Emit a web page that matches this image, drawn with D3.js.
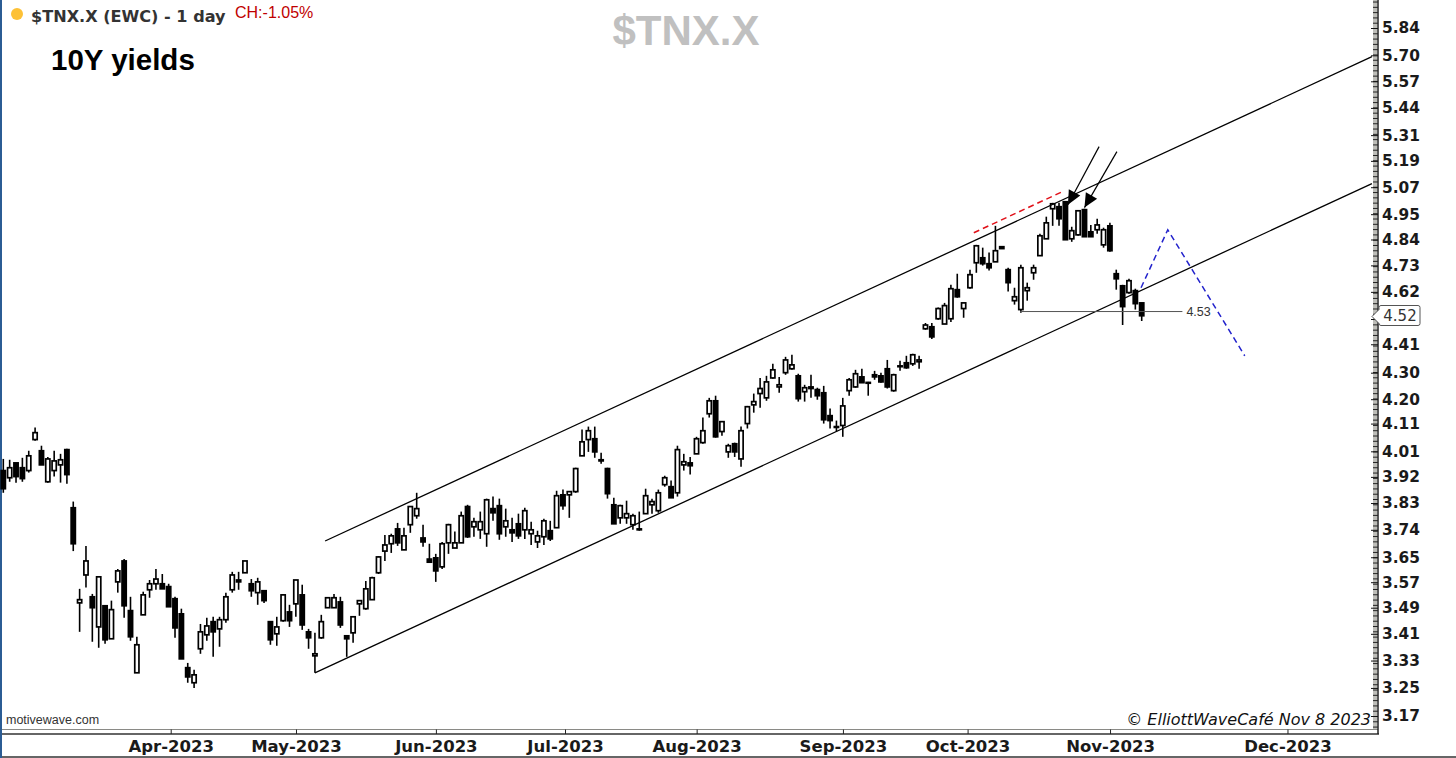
<!DOCTYPE html>
<html lang='en'>
  <head>
    <meta charset='utf-8'>
    <title>$TNX.X 10Y yields</title>
    <script src='https://cdn.jsdelivr.net/npm/d3@7'></script>
    <style>
      body { margin: 0; background: #fff; }
      svg { display: block; }
    </style>
  </head>
  <body>
    <script type='text/javascript'>

      // daily bars
      var opens = [
        3.942,3.917,3.969,3.952,3.942,4.052,4.012,3.903,3.942,3.962,
        4.016,3.814,3.505,3.593,3.524,3.431,3.496,3.395,3.571,3.638,
        3.481,3.294,3.468,3.546,3.565,3.565,3.556,3.518,3.471,3.309,
        3.265,3.365,3.407,3.447,3.425,3.453,3.546,3.577,3.600,3.565,
        3.537,3.543,3.447,3.410,3.450,3.477,3.502,3.530,3.416,3.344,
        3.398,3.490,3.490,3.508,3.404,3.413,3.502,3.487,3.515,3.600,
        3.670,3.694,3.743,3.674,3.757,3.787,3.713,3.644,3.648,3.619,
        3.697,3.680,3.697,3.818,3.750,3.740,3.727,3.811,3.821,3.750,
        3.740,3.760,3.740,3.727,3.700,3.717,3.737,3.747,3.858,3.858,
        3.869,3.994,4.052,4.055,3.980,3.949,3.824,3.780,3.780,3.757,
        3.743,3.794,3.824,3.804,3.893,3.886,3.865,3.962,3.969,4.001,
        4.041,4.146,4.194,4.081,4.008,4.037,3.983,4.110,4.179,4.221,
        4.205,4.280,4.246,4.300,4.315,4.288,4.228,4.240,4.236,4.224,
        4.139,4.099,4.103,4.232,4.246,4.284,4.260,4.292,4.288,4.315,
        4.232,4.326,4.338,4.334,4.342,4.471,4.479,4.511,4.490,4.511,
        4.629,4.552,4.637,4.741,4.762,4.737,4.745,4.809,4.712,4.584,
        4.548,4.625,4.699,4.771,4.843,4.974,4.983,5.005,4.843,4.860,
        4.970,4.873,4.882,4.817,4.899,4.695,4.645,4.617,4.625,4.575
      ];
      var highs = [
        3.983,3.980,3.969,3.987,4.012,4.096,4.030,3.990,4.012,4.001,
        4.019,3.835,3.549,3.687,3.533,3.587,3.496,3.512,3.612,3.644,
        3.524,3.401,3.540,3.577,3.612,3.596,3.565,3.524,3.487,3.323,
        3.303,3.440,3.459,3.462,3.462,3.537,3.603,3.603,3.638,3.580,
        3.584,3.543,3.447,3.462,3.533,3.499,3.577,3.562,3.425,3.413,
        3.468,3.521,3.533,3.524,3.404,3.462,3.512,3.574,3.587,3.654,
        3.723,3.727,3.763,3.747,3.818,3.865,3.757,3.694,3.661,3.700,
        3.760,3.734,3.801,3.824,3.780,3.801,3.845,3.852,3.845,3.811,
        3.780,3.794,3.814,3.767,3.737,3.777,3.770,3.872,3.876,3.869,
        3.952,4.088,4.099,4.099,4.005,3.952,3.848,3.824,3.838,3.794,
        3.801,3.879,3.845,3.876,3.924,3.907,4.030,4.001,3.990,4.062,
        4.132,4.205,4.213,4.117,4.037,4.041,4.099,4.175,4.221,4.280,
        4.288,4.334,4.284,4.361,4.369,4.296,4.254,4.292,4.243,4.250,
        4.165,4.121,4.205,4.280,4.311,4.315,4.265,4.307,4.300,4.349,
        4.296,4.346,4.365,4.373,4.365,4.494,4.494,4.556,4.575,4.649,
        4.695,4.575,4.712,4.817,4.805,4.784,4.899,4.809,4.720,4.637,
        4.733,4.658,4.733,4.865,4.939,5.000,5.000,5.005,4.895,4.965,
        4.974,4.903,4.930,4.891,4.912,4.712,4.649,4.674,4.633,4.575
      ];
      var lows = [
        3.865,3.903,3.900,3.903,3.935,4.048,3.962,3.900,3.921,3.900,
        3.896,3.670,3.416,3.553,3.386,3.368,3.380,3.395,3.537,3.459,
        3.389,3.294,3.468,3.521,3.546,3.549,3.493,3.398,3.335,3.265,
        3.250,3.350,3.389,3.341,3.371,3.444,3.537,3.546,3.600,3.524,
        3.499,3.505,3.377,3.374,3.447,3.431,3.462,3.422,3.365,3.294,
        3.395,3.490,3.490,3.428,3.341,3.383,3.465,3.484,3.515,3.596,
        3.638,3.664,3.687,3.674,3.730,3.777,3.684,3.634,3.571,3.612,
        3.661,3.680,3.697,3.713,3.717,3.710,3.684,3.770,3.707,3.717,
        3.700,3.710,3.710,3.690,3.680,3.690,3.703,3.747,3.807,3.780,
        3.865,3.994,4.008,3.987,3.966,3.845,3.760,3.760,3.760,3.740,
        3.737,3.794,3.794,3.797,3.886,3.848,3.852,3.942,3.928,4.001,
        4.037,4.132,4.059,4.066,3.987,3.990,3.955,4.092,4.150,4.168,
        4.194,4.277,4.224,4.292,4.311,4.191,4.191,4.205,4.198,4.110,
        4.092,4.081,4.062,4.213,4.243,4.262,4.213,4.273,4.262,4.240,
        4.228,4.307,4.315,4.326,4.315,4.467,4.431,4.507,4.490,4.498,
        4.596,4.515,4.633,4.699,4.729,4.708,4.745,4.801,4.621,4.568,
        4.535,4.584,4.670,4.771,4.843,4.899,4.899,4.839,4.830,4.856,
        4.852,4.852,4.865,4.805,4.788,4.629,4.486,4.612,4.548,4.502
      ];
      var closes = [
        3.879,3.952,3.921,3.914,3.994,4.077,3.962,3.983,3.976,3.980,
        3.928,3.694,3.515,3.638,3.490,3.587,3.392,3.484,3.606,3.496,
        3.401,3.377,3.530,3.565,3.580,3.549,3.493,3.428,3.335,3.282,
        3.288,3.416,3.434,3.416,3.453,3.524,3.593,3.571,3.638,3.543,
        3.571,3.512,3.392,3.431,3.530,3.450,3.577,3.437,3.398,3.350,
        3.447,3.521,3.521,3.437,3.395,3.462,3.512,3.549,3.584,3.651,
        3.690,3.720,3.697,3.720,3.818,3.811,3.700,3.634,3.606,3.694,
        3.757,3.697,3.787,3.717,3.767,3.767,3.841,3.797,3.727,3.770,
        3.730,3.720,3.804,3.740,3.720,3.770,3.710,3.855,3.821,3.869,
        3.949,4.044,4.084,4.008,3.976,3.862,3.760,3.821,3.794,3.787,
        3.740,3.855,3.835,3.865,3.917,3.848,4.016,3.973,3.959,4.055,
        4.084,4.194,4.062,4.117,4.030,4.008,4.084,4.172,4.191,4.240,
        4.265,4.311,4.254,4.349,4.330,4.202,4.243,4.246,4.213,4.124,
        4.121,4.096,4.175,4.273,4.296,4.262,4.263,4.284,4.265,4.246,
        4.292,4.323,4.319,4.369,4.349,4.486,4.439,4.552,4.564,4.633,
        4.600,4.575,4.691,4.813,4.737,4.720,4.792,4.801,4.658,4.600,
        4.720,4.637,4.720,4.856,4.912,4.996,4.930,4.839,4.878,4.965,
        4.852,4.852,4.903,4.882,4.792,4.674,4.560,4.666,4.572,4.523
      ];

      var priceTicks = [5.84,5.70,5.57,5.44,5.31,5.19,5.07,4.95,4.84,4.73,4.62,4.51,4.41,
                        4.30,4.20,4.11,4.01,3.92,3.83,3.74,3.65,3.57,3.49,3.41,3.33,3.25,3.17];
      var monthLabels = ['Apr-2023','May-2023','Jun-2023','Jul-2023','Aug-2023','Sep-2023','Oct-2023','Nov-2023','Dec-2023'];
      var monthBars = [26.4,46.1,68.1,88.4,109.1,132.1,151.7,174.1,202];

      // drawn studies, as [bar number, price] pairs
      var upperChannel = [[50.6,3.703],[215.2,5.693]];
      var lowerChannel = [[49,3.294],[215.2,5.086]];
      var supportLevel = [[159.9,4.54],[185.4,4.54]];
      var redDash = [[152.6,4.869],[166.3,5.047]];
      var blueDash = [[178.9,4.637],[183.1,4.882],[195.2,4.365]];
      var arrowOne = [[172.3,5.256],[167.4,4.992]];
      var arrowTwo = [[175.1,5.233],[170,4.979]];
      var lastPrice = 4.52;

      var w = 1456;
      var h = 758;
      var axisX = 1378;
      var axisY = 734;
      var sans = "'Liberation Sans', Arial, sans-serif";
      var dejavu = "'DejaVu Sans', Verdana, sans-serif";

      var svg = d3.select('body').append('svg')
                  .attr('width', w)
                  .attr('height', h);

      var xScale = d3.scaleLinear()
                     .domain([0, opens.length - 1])
                     .range([3.3, 1141.7]);

      var yScale = d3.scaleLog()
                     .domain([3.17, 5.84])
                     .range([716, 28]);

      // frame
      svg.append('rect').attr('x', axisX - 5).attr('y', 0).attr('width', 4).attr('height', 730).attr('fill', '#bdbdb8');
      svg.append('line').attr('x1', 0).attr('x2', axisX).attr('y1', 729.5).attr('y2', 729.5)
         .attr('stroke', '#8a8a86').attr('stroke-width', 1);
      svg.append('line').attr('x1', 0).attr('x2', axisX + 1).attr('y1', axisY).attr('y2', axisY)
         .attr('stroke', '#333').attr('stroke-width', 1.5);
      svg.append('line').attr('x1', axisX).attr('x2', axisX).attr('y1', 0).attr('y2', axisY)
         .attr('stroke', '#222').attr('stroke-width', 1.5);
      svg.append('line').attr('x1', 0).attr('x2', w).attr('y1', 757).attr('y2', 757)
         .attr('stroke', '#333').attr('stroke-width', 1.5);
      svg.append('rect').attr('x', 0).attr('y', 0).attr('width', 2).attr('height', h).attr('fill', '#2b5c94');

      // right axis: minor ticks, major ticks, labels
      var step = Math.pow(5.84 / 3.17, 1 / 26);
      var minorTicks = d3.range(-10, 145)
                         .map(function(j){ return 3.17 * Math.pow(step, j / 5); })
                         .filter(function(d){ return yScale(d) > 1 && yScale(d) < 729; });

      var minorAxis = svg.append('g')
         .attr('transform', 'translate(' + axisX + ',0)')
         .call(d3.axisLeft(yScale).tickValues(minorTicks).tickSize(5).tickFormat(''));
      var majorAxis = svg.append('g')
         .attr('transform', 'translate(' + axisX + ',0)')
         .call(d3.axisLeft(yScale).tickValues(priceTicks).tickSize(7).tickFormat(''));
      var labelAxis = svg.append('g')
         .attr('transform', 'translate(' + axisX + ',0)')
         .call(d3.axisRight(yScale).tickValues(priceTicks).tickSize(0).tickPadding(4)
                 .tickFormat(function(d){ return d === 4.51 ? '' : d3.format('.2f')(d); }));
      minorAxis.select('.domain').remove();
      majorAxis.select('.domain').remove();
      labelAxis.select('.domain').remove();
      minorAxis.selectAll('line').attr('stroke', '#222').attr('stroke-width', 1);
      majorAxis.selectAll('line').attr('stroke', '#111').attr('stroke-width', 1);
      labelAxis.selectAll('text')
               .attr('font-family', dejavu)
               .attr('font-size', '15.4px')
               .attr('font-weight', 'bold')
               .attr('fill', '#1a1a1a');

      // month axis
      var months = svg.selectAll('.month')
         .data(monthBars)
         .enter()
         .append('g')
         .attr('class', 'month');
      months.append('line')
         .attr('x1', function(d){ return xScale(d); })
         .attr('x2', function(d){ return xScale(d); })
         .attr('y1', 729.5)
         .attr('y2', axisY)
         .attr('stroke', '#222');
      months.append('text')
         .text(function(d, i){ return monthLabels[i]; })
         .attr('x', function(d){ return xScale(d); })
         .attr('y', 752)
         .attr('text-anchor', 'middle')
         .attr('font-family', dejavu)
         .attr('font-size', '16.5px')
         .attr('font-weight', 'bold')
         .attr('fill', '#1a1a1a');

      // candles
      var bars = svg.selectAll('.bar')
         .data(opens)
         .enter()
         .append('g')
         .attr('class', 'bar');
      bars.append('line')
         .attr('x1', function(d, i){ return xScale(i); })
         .attr('x2', function(d, i){ return xScale(i); })
         .attr('y1', function(d, i){ return yScale(highs[i]); })
         .attr('y2', function(d, i){ return yScale(lows[i]); })
         .attr('stroke', '#000')
         .attr('stroke-width', 1.6);
      bars.append('rect')
         .attr('x', function(d, i){ return xScale(i) - 2.1; })
         .attr('y', function(d, i){ return yScale(Math.max(d, closes[i])); })
         .attr('width', 4.2)
         .attr('height', function(d, i){ return Math.abs(yScale(d) - yScale(closes[i])); })
         .attr('fill', function(d, i){ return closes[i] >= d ? '#fff' : '#000'; })
         .attr('stroke', '#000')
         .attr('stroke-width', 1.7);

      // studies
      var line = d3.line()
                   .x(function(d){ return xScale(d[0]); })
                   .y(function(d){ return yScale(d[1]); });

      function study(points, color, width, dash){
        svg.append('path')
           .attr('d', line(points))
           .attr('fill', 'none')
           .attr('stroke', color)
           .attr('stroke-width', width)
           .attr('stroke-dasharray', dash);
      }

      study(upperChannel, '#000', 1.3);
      study(lowerChannel, '#000', 1.3);
      study(supportLevel, '#555', 1);
      study(redDash, '#e01018', 1.5, '6,4');
      study(blueDash, '#2222cc', 1.5, '6,4');
      study(arrowOne, '#000', 1.2);
      study(arrowTwo, '#000', 1.2);

      function arrowHead(points){
        var x0 = xScale(points[0][0]), y0 = yScale(points[0][1]);
        var x1 = xScale(points[1][0]), y1 = yScale(points[1][1]);
        var len = Math.sqrt((x1 - x0) * (x1 - x0) + (y1 - y0) * (y1 - y0));
        var ux = (x1 - x0) / len, uy = (y1 - y0) / len;
        var bx = x1 - ux * 14, by = y1 - uy * 14;
        svg.append('path')
           .attr('d', d3.line()([[x1, y1], [bx - uy * 6.5, by + ux * 6.5], [bx + uy * 6.5, by - ux * 6.5]]) + 'Z')
           .attr('fill', '#000');
      }
      arrowHead(arrowOne);
      arrowHead(arrowTwo);

      svg.append('text')
         .text('4.53')
         .attr('x', xScale(supportLevel[1][0]) + 4)
         .attr('y', yScale(supportLevel[1][1]) + 4.5)
         .attr('font-family', sans)
         .attr('font-size', '12.5px')
         .attr('fill', '#333');

      // last price tag
      var tagY = yScale(lastPrice);
      svg.append('path')
         .attr('d', 'M' + (axisX - 6) + ',' + tagY + 'L' + (axisX + 1) + ',' + (tagY - 7) +
                    'L' + (axisX + 1) + ',' + (tagY - 9) + 'Q' + (axisX + 1) + ',' + (tagY - 11) + ',' + (axisX + 3) + ',' + (tagY - 11) +
                    'L' + (axisX + 40) + ',' + (tagY - 11) + 'Q' + (axisX + 42) + ',' + (tagY - 11) + ',' + (axisX + 42) + ',' + (tagY - 9) +
                    'L' + (axisX + 42) + ',' + (tagY + 7) + 'Q' + (axisX + 42) + ',' + (tagY + 9) + ',' + (axisX + 40) + ',' + (tagY + 9) +
                    'L' + (axisX + 3) + ',' + (tagY + 9) + 'Q' + (axisX + 1) + ',' + (tagY + 9) + ',' + (axisX + 1) + ',' + (tagY + 7) +
                    'L' + (axisX + 1) + ',' + (tagY + 7) + 'Z')
         .attr('fill', '#fff')
         .attr('stroke', '#555')
         .attr('stroke-width', 1);
      svg.append('text')
         .text(d3.format('.2f')(lastPrice))
         .attr('x', axisX + 22)
         .attr('y', tagY + 4.5)
         .attr('text-anchor', 'middle')
         .attr('font-family', dejavu)
         .attr('font-size', '15px')
         .attr('fill', '#333');

      // header texts
      svg.append('circle').attr('cx', 17).attr('cy', 14).attr('r', 6).attr('fill', '#fdc136');
      svg.append('text').text('$TNX.X (EWC) - 1 day')
         .attr('x', 31).attr('y', 22)
         .attr('font-family', dejavu).attr('font-size', '16.1px').attr('font-weight', 'bold').attr('fill', '#333');
      svg.append('text').text('CH:-1.05%')
         .attr('x', 235).attr('y', 18)
         .attr('font-family', sans).attr('font-size', '16px').attr('fill', '#c00000');
      svg.append('text').text('10Y yields')
         .attr('x', 51).attr('y', 70)
         .attr('font-family', sans).attr('font-size', '29.5px').attr('font-weight', 'bold').attr('fill', '#000');
      svg.append('text').text('$TNX.X')
         .attr('x', 686).attr('y', 45)
         .attr('text-anchor', 'middle')
         .attr('font-family', sans).attr('font-size', '42px').attr('font-weight', 'bold').attr('fill', '#c0c0c0');
      svg.append('text').text('motivewave.com')
         .attr('x', 6).attr('y', 724)
         .attr('font-family', sans).attr('font-size', '12.5px').attr('fill', '#333');
      svg.append('text').text('© ElliottWaveCafé Nov 8 2023')
         .attr('x', 1371).attr('y', 725)
         .attr('text-anchor', 'end')
         .attr('font-family', dejavu).attr('font-style', 'italic').attr('font-size', '16px').attr('fill', '#111');

    </script>
  </body>
</html>
